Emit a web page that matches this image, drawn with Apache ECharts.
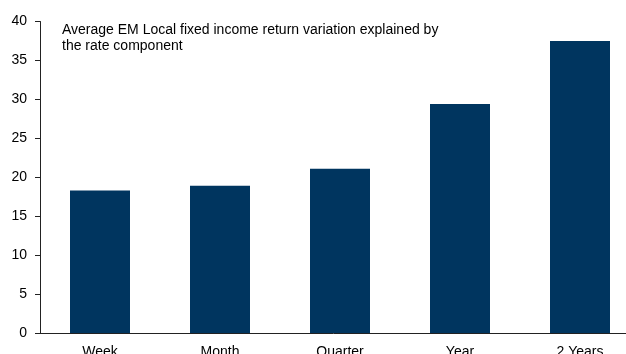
<!DOCTYPE html>
<html>
<head>
<meta charset="utf-8">
<script src="https://cdn.jsdelivr.net/npm/echarts@6/dist/echarts.min.js"></script>
<style>
  html, body { margin: 0; padding: 0; background: #fff; }
  #chart { width: 626px; height: 354px; }
</style>
</head>
<body>
<div id="chart"></div>
<script>
// Horizons over which the return variation is measured
const categories = ['Week', 'Month', 'Quarter', 'Year', '2 Years'];
// Share of return variation explained by rates (%)
const rateShare = [18.3, 18.9, 21.1, 29.4, 37.5];
const yTicks = { min: 0, max: 40, step: 5 };
const noteLines = [
  'Average EM Local fixed income return variation explained by',
  'the rate component'
];

const chart = echarts.init(document.getElementById('chart'), null, { renderer: 'canvas' });
const font = 'Liberation Sans, Arial, sans-serif';

chart.setOption({
  animation: false,
  grid: {
    left: 40, top: 21.5, width: 600, bottom: 21,
    containLabel: false,
    outerBoundsMode: 'none'
  },
  xAxis: {
    type: 'category',
    data: categories,
    axisLine: { lineStyle: { color: '#222', width: 1 } },
    axisTick: { show: false },
    axisLabel: { color: '#000', fontSize: 14, fontFamily: font, margin: 12 }
  },
  yAxis: {
    type: 'value',
    min: yTicks.min,
    max: yTicks.max,
    interval: yTicks.step,
    axisLine: { show: true, lineStyle: { color: '#222', width: 1 } },
    axisTick: { show: true, length: 5, lineStyle: { color: '#222' } },
    splitLine: { show: false },
    axisLabel: { color: '#000', fontSize: 14, fontFamily: font, margin: 13 }
  },
  graphic: [{
    type: 'text',
    left: 62,
    top: 22.5,
    style: {
      text: noteLines.join('\n'),
      fill: '#000',
      font: '14px ' + font,
      lineHeight: 16
    }
  }],
  series: [{
    type: 'bar',
    data: rateShare,
    barWidth: '50%',
    itemStyle: { color: '#00355F' }
  }]
});
</script>
</body>
</html>
